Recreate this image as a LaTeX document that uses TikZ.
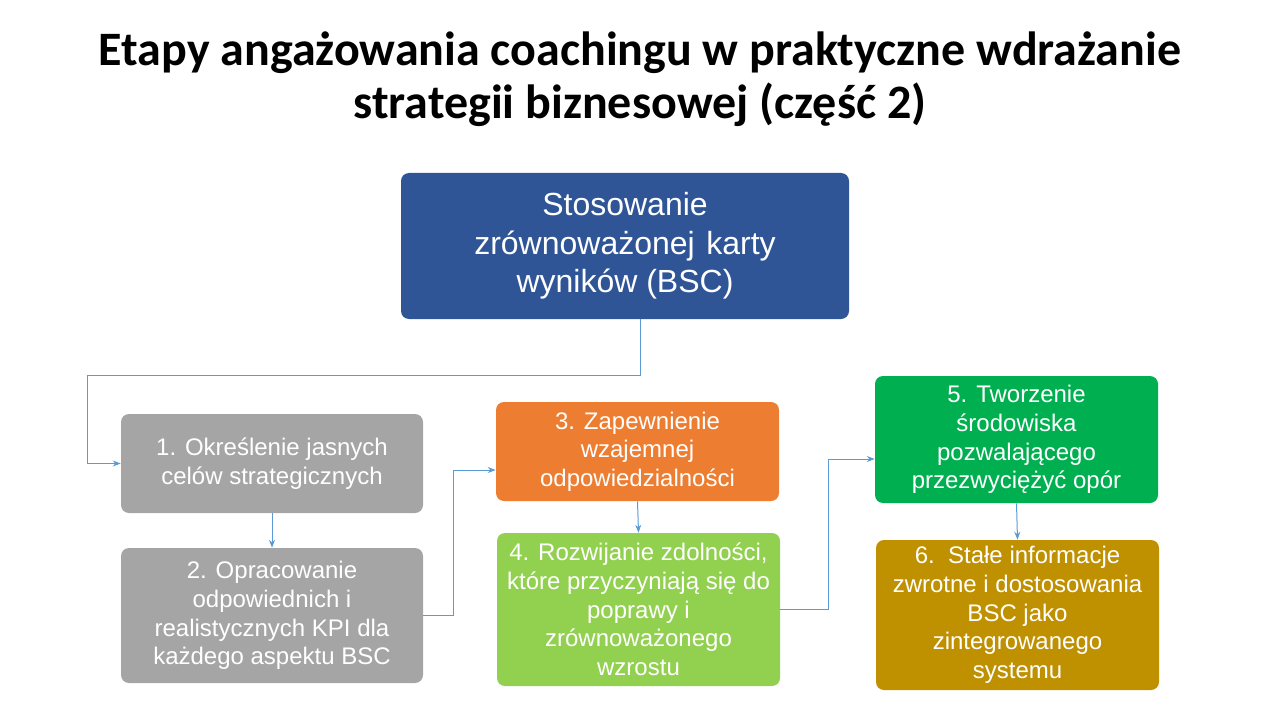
\documentclass[tikz,border=0pt]{standalone}
\usepackage{fontspec}
\setmainfont{Liberation Sans}
\newfontfamily\titlefont{Carlito}
\usetikzlibrary{arrows.meta}
\definecolor{cblue}{HTML}{2F5597}
\definecolor{cgray}{HTML}{A5A5A5}
\definecolor{corange}{HTML}{ED7D31}
\definecolor{clgreen}{HTML}{92D050}
\definecolor{cgreen}{HTML}{00B050}
\definecolor{cgold}{HTML}{BF9000}
\definecolor{cline}{HTML}{5B9BD5}
\tikzset{
  box/.style={rounded corners=6pt, text=white, align=center, inner sep=2pt,
    font=\fontsize{18}{21.5}\selectfont},
  conn/.style={draw=cline, line width=0.75pt, -{Stealth[length=6pt,width=4.5pt]}},
}
\begin{document}
\begin{tikzpicture}[x=0.75pt,y=-0.75pt]
\useasboundingbox (0,0) rectangle (1280,720);
\node[align=center, font=\titlefont\bfseries\fontsize{36}{40}\selectfont] (title) at (640,79)
  {Etapy angażowania coachingu w praktyczne wdrażanie\\strategii biznesowej (część 2)};
\node[box, fill=cblue, minimum width=336pt, minimum height=109.5pt,
  font=\fontsize{24}{29}\selectfont] (top) at (625,246)
  {Stosowanie\\zrównoważonej\hspace{2pt} karty\\wyników (BSC)};
\node[box, fill=cgray, minimum width=226.5pt, minimum height=74.25pt] (b1) at (272,463.5)
  {1. Określenie jasnych\\celów strategicznych};
\node[box, fill=cgray, minimum width=226.5pt, minimum height=101.25pt] (b2) at (272,615.5)
  {2. Opracowanie\\odpowiednich i\\realistycznych KPI dla\\każdego aspektu BSC};
\node[box, fill=corange, minimum width=212.25pt, minimum height=74.25pt] (b3) at (637.5,451.5)
  {3. Zapewnienie\\wzajemnej\\odpowiedzialności};
\node[box, fill=clgreen, minimum width=212.25pt, minimum height=114.75pt] (b4) at (638.5,609.5)
  {4. Rozwijanie zdolności,\\które przyczyniają się do\\poprawy i\\zrównoważonego\\wzrostu};
\node[box, fill=cgreen, minimum width=212.25pt, minimum height=95.25pt] (b5) at (1016.5,439.5)
  {5. Tworzenie\\środowiska\\pozwalającego\\przezwyciężyć opór};
\node[box, fill=cgold, minimum width=212.25pt, minimum height=112.5pt] (b6) at (1017.5,615)
  {6.\ \ Stałe informacje\\zwrotne i dostosowania\\BSC jako\\zintegrowanego\\systemu};
\coordinate (x640) at (640,0);
\coordinate (k1) at (87,375);
\coordinate (k2) at (453,470);
\coordinate (k3) at (828,459);
\draw[conn] (top.south -| x640) |- (k1) |- (b1.west);
\draw[conn] (b1.south) -- (b2.north);
\draw[conn] (b2.east) -| (k2) -- (b3.west |- k2);
\draw[conn] (b3.south) -- (b4.north);
\draw[conn] (b4.east) -| (k3) -- (b5.west |- k3);
\draw[conn] (b5.south) -- (b6.north);
\end{tikzpicture}
\end{document}
